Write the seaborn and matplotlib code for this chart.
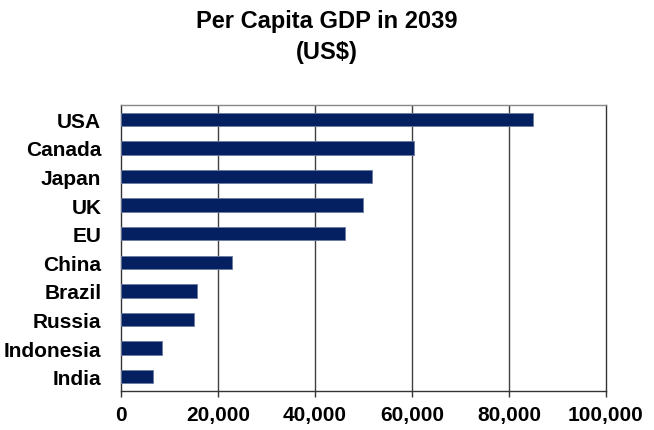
"""
Per Capita GDP in 2039 - horizontal bar chart
"""

import numpy as np
import matplotlib
matplotlib.use("Agg")
import matplotlib.pyplot as plt
import seaborn as sns
import pandas as pd

# Data
countries = ["USA", "Canada", "Japan", "UK", "EU",
             "China", "Brazil", "Russia", "Indonesia", "India"]
gdp_per_capita = [85000, 60400, 51700, 50000, 46300,
                  22900, 15700, 15000, 8450, 6600]
x_ticks = [0, 20000, 40000, 60000, 80000, 100000]

BAR_COLOR = "#042060"

sns.set_style("white")
plt.rcParams['font.family'] = ['Liberation Sans', 'DejaVu Sans']
plt.rcParams['text.color'] = 'black'
plt.rcParams['xtick.color'] = 'black'
plt.rcParams['ytick.color'] = 'black'

df = pd.DataFrame({"country": countries, "gdp": gdp_per_capita})

fig = plt.figure(figsize=(6.54, 4.31), dpi=100)
ax = fig.add_axes([0.1846, 0.0905, 0.742, 0.6635])

sns.barplot(data=df, x="gdp", y="country", orient="h", color=BAR_COLOR,
            width=0.47, edgecolor="#6b7aa0", linewidth=0.6, saturation=1,
            ax=ax, zorder=3)

ax.set_xlim(0, 100000)
ax.set_ylim(len(countries) - 0.5, -0.5)
ax.set_xticks(x_ticks)
ax.set_xticklabels([f"{t:,}" for t in x_ticks], fontsize=15, fontweight="bold")
ax.set_yticks(range(len(countries)))
ax.set_yticklabels(countries, fontsize=15, fontweight="bold")
ax.set_xlabel("")
ax.set_ylabel("")

# tick marks sit between categories on the y axis
ax.set_yticks(np.arange(-0.5, len(countries)), minor=True)
ax.tick_params(axis="y", which="major", length=0, pad=14)
ax.tick_params(axis="y", which="minor", length=4, width=1, color="#333333", direction="out")
ax.tick_params(axis="x", which="major", length=4, width=1, color="#333333",
               direction="out", pad=6)
ax.tick_params(left=True, bottom=True)

# vertical gridlines
for t in x_ticks[1:-1]:
    ax.axvline(t, color="#404040", linewidth=1, zorder=1)

for side in ["left", "bottom", "right"]:
    ax.spines[side].set_color("#333333")
    ax.spines[side].set_linewidth(1)
    ax.spines[side].set_visible(True)
ax.spines["top"].set_color("#888888")
ax.spines["top"].set_linewidth(1)
ax.spines["top"].set_visible(True)

fig.suptitle("Per Capita GDP in 2039\n(US$)", fontsize=17, fontweight="bold",
             y=0.976, linespacing=1.4)

fig.savefig("out.png", dpi=100)
